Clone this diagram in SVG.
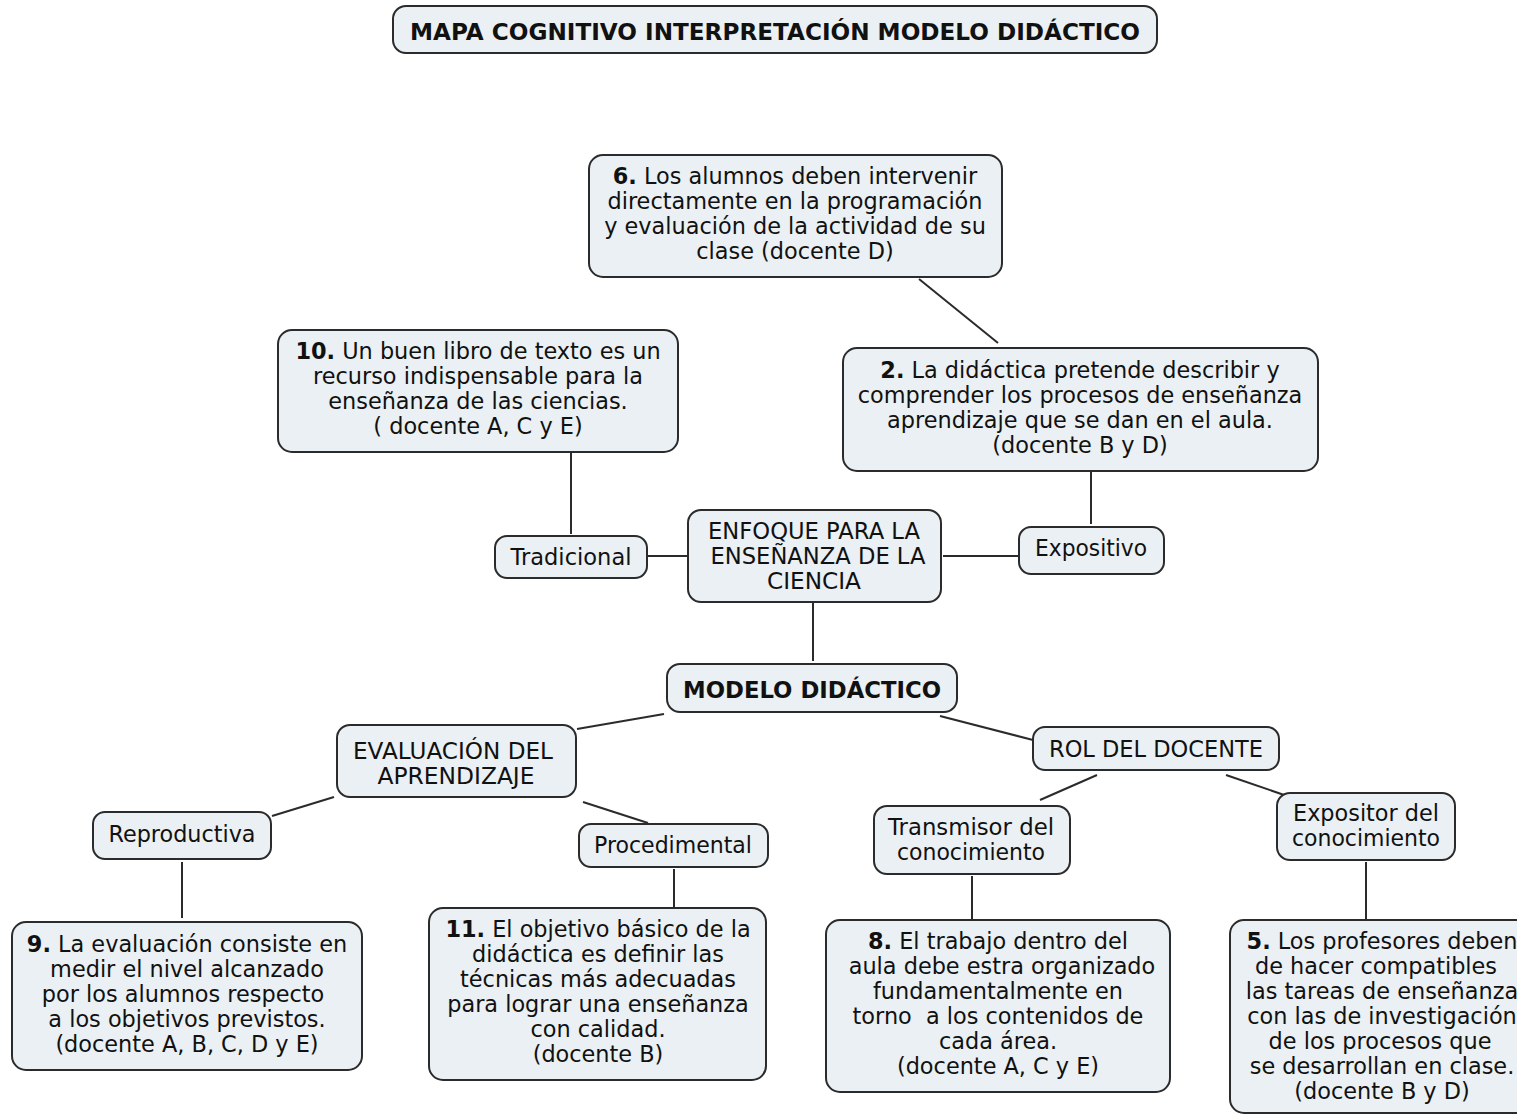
<svg xmlns="http://www.w3.org/2000/svg" width="1517" height="1115" viewBox="0 0 1517 1115">
<style>
.box{fill:#eaf0f3;stroke:#2b2b2b;stroke-width:2}
.t{font-family:"DejaVu Sans",Verdana,sans-serif;font-size:22.4px;fill:#111;text-anchor:middle}
.c{font-family:"DejaVu Sans",Verdana,sans-serif;font-size:23px;fill:#111;text-anchor:middle}
.b{font-weight:bold}
.ln{stroke:#2b2b2b;stroke-width:2;fill:none}
</style>
<rect width="1517" height="1115" fill="#ffffff"/>
<g id="connectors">
<line class="ln" x1="919" y1="279" x2="998" y2="343"/>
<line class="ln" x1="571" y1="452" x2="571" y2="534"/>
<line class="ln" x1="648" y1="556" x2="687" y2="556"/>
<line class="ln" x1="943" y1="556" x2="1018" y2="556"/>
<line class="ln" x1="1091" y1="471" x2="1091" y2="524"/>
<line class="ln" x1="813" y1="603" x2="813" y2="661"/>
<line class="ln" x1="664" y1="714" x2="577" y2="729"/>
<line class="ln" x1="940" y1="716" x2="1033" y2="740"/>
<line class="ln" x1="334" y1="797" x2="272" y2="816"/>
<line class="ln" x1="583" y1="802" x2="648" y2="823"/>
<line class="ln" x1="1097" y1="775" x2="1040" y2="800"/>
<line class="ln" x1="1226" y1="775" x2="1290" y2="797"/>
<line class="ln" x1="182" y1="862" x2="182" y2="918"/>
<line class="ln" x1="674" y1="869" x2="674" y2="907"/>
<line class="ln" x1="972" y1="876" x2="972" y2="919"/>
<line class="ln" x1="1366" y1="862" x2="1366" y2="919"/>
</g>
<g id="title">
<rect class="box" x="393" y="6" width="764" height="47" rx="13"/>
<text class="c b" x="775" y="40" textLength="730" lengthAdjust="spacingAndGlyphs">MAPA COGNITIVO INTERPRETACIÓN MODELO DIDÁCTICO</text>
</g>
<g id="n6">
<rect class="box" x="589" y="155" width="413" height="122" rx="14"/>
<text class="t" x="795" y="184"><tspan class="b">6.</tspan> Los alumnos deben intervenir</text>
<text class="t" x="795" y="209">directamente en la programación</text>
<text class="t" x="795" y="234">y evaluación de la actividad de su</text>
<text class="t" x="795" y="259">clase (docente D)</text>
</g>
<g id="n10">
<rect class="box" x="278" y="330" width="400" height="122" rx="14"/>
<text class="t" x="478" y="359"><tspan class="b">10.</tspan> Un buen libro de texto es un</text>
<text class="t" x="478" y="384">recurso indispensable para la</text>
<text class="t" x="478" y="409">enseñanza de las ciencias.</text>
<text class="t" x="478" y="434">( docente A, C y E)</text>
</g>
<g id="n2">
<rect class="box" x="843" y="348" width="475" height="123" rx="14"/>
<text class="t" x="1080" y="378"><tspan class="b">2.</tspan> La didáctica pretende describir y</text>
<text class="t" x="1080" y="403">comprender los procesos de enseñanza</text>
<text class="t" x="1080" y="428">aprendizaje que se dan en el aula.</text>
<text class="t" x="1080" y="453">(docente B y D)</text>
</g>
<g id="tradicional">
<rect class="box" x="495" y="536" width="152" height="42" rx="12"/>
<text class="c" x="571" y="565" textLength="121" lengthAdjust="spacingAndGlyphs">Tradicional</text>
</g>
<g id="enfoque">
<rect class="box" x="688" y="510" width="253" height="92" rx="13"/>
<text class="c" x="814" y="539" textLength="212" lengthAdjust="spacingAndGlyphs">ENFOQUE PARA LA</text>
<text class="c" x="818" y="564" textLength="215" lengthAdjust="spacingAndGlyphs">ENSEÑANZA DE LA</text>
<text class="c" x="814" y="589" textLength="94" lengthAdjust="spacingAndGlyphs">CIENCIA</text>
</g>
<g id="expositivo">
<rect class="box" x="1019" y="527" width="145" height="47" rx="12"/>
<text class="c" x="1091" y="556" textLength="112" lengthAdjust="spacingAndGlyphs">Expositivo</text>
</g>
<g id="modelo">
<rect class="box" x="667" y="664" width="290" height="48" rx="13"/>
<text class="c b" x="812" y="698" textLength="258" lengthAdjust="spacingAndGlyphs">MODELO DIDÁCTICO</text>
</g>
<g id="evaluacion">
<rect class="box" x="337" y="725" width="239" height="72" rx="13"/>
<text class="c" x="453" y="759" textLength="200" lengthAdjust="spacingAndGlyphs">EVALUACIÓN DEL</text>
<text class="c" x="456" y="784" textLength="157" lengthAdjust="spacingAndGlyphs">APRENDIZAJE</text>
</g>
<g id="rol">
<rect class="box" x="1033" y="727" width="246" height="43" rx="12"/>
<text class="c" x="1156" y="757" textLength="214" lengthAdjust="spacingAndGlyphs">ROL DEL DOCENTE</text>
</g>
<g id="reproductiva">
<rect class="box" x="93" y="812" width="178" height="47" rx="12"/>
<text class="c" x="182" y="842" textLength="147" lengthAdjust="spacingAndGlyphs">Reproductiva</text>
</g>
<g id="procedimental">
<rect class="box" x="579" y="824" width="189" height="43" rx="12"/>
<text class="c" x="673" y="853" textLength="158" lengthAdjust="spacingAndGlyphs">Procedimental</text>
</g>
<g id="transmisor">
<rect class="box" x="874" y="806" width="196" height="68" rx="13"/>
<text class="c" x="971" y="835" textLength="166" lengthAdjust="spacingAndGlyphs">Transmisor del</text>
<text class="c" x="971" y="860" textLength="148" lengthAdjust="spacingAndGlyphs">conocimiento</text>
</g>
<g id="expositor">
<rect class="box" x="1277" y="793" width="178" height="67" rx="13"/>
<text class="c" x="1366" y="821" textLength="146" lengthAdjust="spacingAndGlyphs">Expositor del</text>
<text class="c" x="1366" y="846" textLength="148" lengthAdjust="spacingAndGlyphs">conocimiento</text>
</g>
<g id="n9">
<rect class="box" x="12" y="922" width="350" height="148" rx="14"/>
<text class="t" x="187" y="952"><tspan class="b">9.</tspan> La evaluación consiste en</text>
<text class="t" x="187" y="977">medir el nivel alcanzado</text>
<text class="t" x="183" y="1002">por los alumnos respecto</text>
<text class="t" x="187" y="1027">a los objetivos previstos.</text>
<text class="t" x="187" y="1052">(docente A, B, C, D y E)</text>
</g>
<g id="n11">
<rect class="box" x="429" y="908" width="337" height="172" rx="14"/>
<text class="t" x="598" y="937"><tspan class="b">11.</tspan> El objetivo básico de la</text>
<text class="t" x="598" y="962">didáctica es definir las</text>
<text class="t" x="598" y="987">técnicas más adecuadas</text>
<text class="t" x="598" y="1012">para lograr una enseñanza</text>
<text class="t" x="598" y="1037">con calidad.</text>
<text class="t" x="598" y="1062">(docente B)</text>
</g>
<g id="n8">
<rect class="box" x="826" y="920" width="344" height="172" rx="14"/>
<text class="t" x="998" y="949"><tspan class="b">8.</tspan> El trabajo dentro del</text>
<text class="t" x="1002" y="974">aula debe estra organizado</text>
<text class="t" x="998" y="999">fundamentalmente en</text>
<text class="t" x="998" y="1024" style="white-space:pre">torno  a los contenidos de</text>
<text class="t" x="998" y="1049">cada área.</text>
<text class="t" x="998" y="1074">(docente A, C y E)</text>
</g>
<g id="n5">
<rect class="box" x="1230" y="920" width="310" height="193" rx="14"/>
<text class="t" x="1382" y="949"><tspan class="b">5.</tspan> Los profesores deben</text>
<text class="t" x="1376" y="974">de hacer compatibles</text>
<text class="t" x="1382" y="999">las tareas de enseñanza</text>
<text class="t" x="1382" y="1024">con las de investigación</text>
<text class="t" x="1380" y="1049">de los procesos que</text>
<text class="t" x="1382" y="1074">se desarrollan en clase.</text>
<text class="t" x="1382" y="1099">(docente B y D)</text>
</g>
</svg>
